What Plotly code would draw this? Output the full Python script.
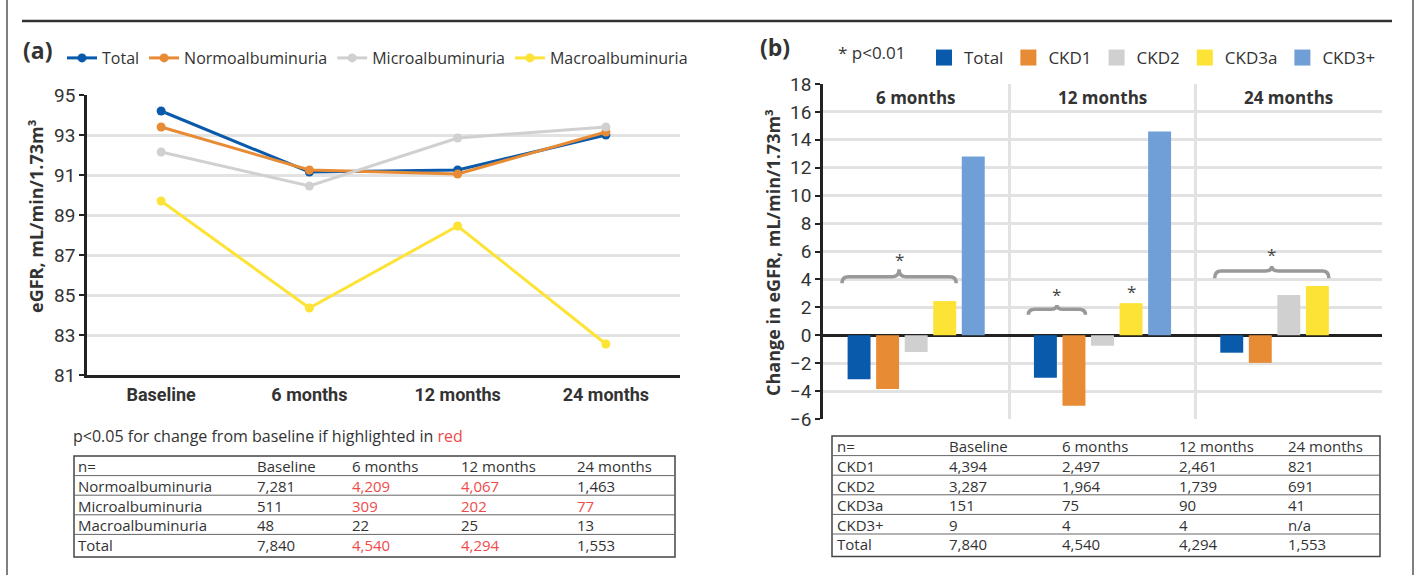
import plotly.graph_objects as go

W, H = 1416, 575


def px(x):
    return x / W


def py(y):
    return 1 - y / H


# ---------------- data ----------------
timepoints = ["Baseline", "6 months", "12 months", "24 months"]
egfr_total = [94.2, 91.15, 91.25, 93.0]
egfr_normo = [93.4, 91.25, 91.05, 93.15]
egfr_micro = [92.15, 90.45, 92.85, 93.4]
egfr_macro = [89.7, 84.35, 88.45, 82.55]

change_periods = ["6 months", "12 months", "24 months"]
chg_total = [-3.15, -3.05, -1.25]
chg_ckd1 = [-3.85, -5.05, -1.98]
chg_ckd2 = [-1.2, -0.75, 2.88]
chg_ckd3a = [2.45, 2.3, 3.52]
chg_ckd3p = [12.8, 14.6, None]

table_a_header = ["n=", "Baseline", "6 months", "12 months", "24 months"]
table_a_rows = [
    ["Normoalbuminuria", "7,281", "4,209", "4,067", "1,463"],
    ["Microalbuminuria", "511", "309", "202", "77"],
    ["Macroalbuminuria", "48", "22", "25", "13"],
    ["Total", "7,840", "4,540", "4,294", "1,553"],
]
table_a_red = [
    [False, False, True, True, False],
    [False, False, True, True, True],
    [False, False, False, False, False],
    [False, False, True, True, False],
]

table_b_header = ["n=", "Baseline", "6 months", "12 months", "24 months"]
table_b_rows = [
    ["CKD1", "4,394", "2,497", "2,461", "821"],
    ["CKD2", "3,287", "1,964", "1,739", "691"],
    ["CKD3a", "151", "75", "90", "41"],
    ["CKD3+", "9", "4", "4", "n/a"],
    ["Total", "7,840", "4,540", "4,294", "1,553"],
]

# significance braces: (period index, first bar, last bar, tip y, flat y, peak y, star y)
braces = [
    (0, 0, 3, 3.72, 4.2, 4.72, 5.45),
    (1, 0, 1, 1.46, 1.86, 2.17, 2.95),
    (2, 0, 3, 4.08, 4.6, 4.96, 5.8),
]
single_stars = [(1, 3, 3.15)]  # period index, bar index, y

# ---------------- styling ----------------
C_TOTAL = "#0a5aab"
C_NORMO = "#e88b35"
C_MICRO = "#d0d0d0"
C_MACRO = "#fde335"
C_CKD3P = "#6f9fd6"
GRID = "#e2e2e2"
AXIS = "#222222"
TXT = "#333333"
RED = "#ef4a4a"
FONT = "Open Sans, DejaVu Sans, sans-serif"
NARROW = "Liberation Sans Narrow, Arial Narrow, Roboto, sans-serif"

fig = go.Figure()

# ---------------- panel (a): lines ----------------
for name, vals, col in [
    ("Total", egfr_total, C_TOTAL),
    ("Normoalbuminuria", egfr_normo, C_NORMO),
    ("Microalbuminuria", egfr_micro, C_MICRO),
    ("Macroalbuminuria", egfr_macro, C_MACRO),
]:
    fig.add_trace(go.Scatter(
        x=timepoints, y=vals, name=name, mode="lines+markers",
        line=dict(color=col, width=3), marker=dict(color=col, size=9),
        xaxis="x", yaxis="y", legend="legend", cliponaxis=False,
    ))

# ---------------- panel (b): bars ----------------
BARGAP = 0.234
BARGROUPGAP = 0.196
xnum = list(range(len(change_periods)))
bar_series = [
    ("Total", chg_total, C_TOTAL),
    ("CKD1", chg_ckd1, C_NORMO),
    ("CKD2", chg_ckd2, C_MICRO),
    ("CKD3a", chg_ckd3a, C_MACRO),
    ("CKD3+", chg_ckd3p, C_CKD3P),
]
for name, vals, col in bar_series:
    fig.add_trace(go.Bar(
        x=xnum, y=vals, name=name, marker=dict(color=col, line=dict(width=0)),
        xaxis="x2", yaxis="y2", showlegend=False,
    ))
    # legend swatch (square)
    fig.add_trace(go.Scatter(
        x=[None], y=[None], name=name, mode="markers",
        marker=dict(symbol="square", color=col, size=16),
        xaxis="x2", yaxis="y2", legend="legend2",
    ))

nbars = len(bar_series)
slot = (1 - BARGAP) / nbars


def bar_left(period, idx):
    return period - (1 - BARGAP) / 2 + idx * slot + slot * BARGROUPGAP / 2


def bar_right(period, idx):
    return period - (1 - BARGAP) / 2 + (idx + 1) * slot - slot * BARGROUPGAP / 2


shapes = []
annotations = []
r = 0.035
for (p, i0, i1, yt, yf, yp, ys) in braces:
    xa = bar_left(p, i0) - 0.03
    xb = bar_right(p, i1) + 0.0
    xm = (xa + xb) / 2
    path = (f"M {xa},{yt} Q {xa},{yf} {xa + r},{yf} L {xm - r},{yf} "
            f"Q {xm},{yf} {xm},{yp} Q {xm},{yf} {xm + r},{yf} "
            f"L {xb - r},{yf} Q {xb},{yf} {xb},{yt}")
    shapes.append(dict(type="path", path=path, xref="x2", yref="y2",
                       line=dict(color="#999999", width=3.5)))
    annotations.append(dict(x=xm, y=ys, xref="x2", yref="y2", text="*",
                            showarrow=False, font=dict(size=17, color="#444", family=FONT)))
for (p, i, ys) in single_stars:
    xc = (bar_left(p, i) + bar_right(p, i)) / 2
    annotations.append(dict(x=xc, y=ys, xref="x2", yref="y2", text="*",
                            showarrow=False, font=dict(size=17, color="#444", family=FONT)))

# period labels inside plot
for i, lab in enumerate(change_periods):
    annotations.append(dict(x=i, y=17.0, xref="x2", yref="y2", text=f"<b>{lab}</b>",
                            showarrow=False, font=dict(size=17, color=TXT, family=FONT)))

# panel labels and misc text
annotations += [
    dict(x=px(21), y=py(50), xref="paper", yref="paper", xanchor="left", yanchor="middle",
         text="<b>(a)</b>", showarrow=False, font=dict(size=23, color=TXT, family=FONT)),
    dict(x=px(758), y=py(47), xref="paper", yref="paper", xanchor="left", yanchor="middle",
         text="<b>(b)</b>", showarrow=False, font=dict(size=23, color=TXT, family=FONT)),
    dict(x=px(836), y=py(53), xref="paper", yref="paper", xanchor="left", yanchor="middle",
         text="* p<0.01", showarrow=False, font=dict(size=17, color=TXT, family=FONT)),
    dict(x=px(36), y=py(216), xref="paper", yref="paper", xanchor="center", yanchor="middle",
         text="<b>eGFR, mL/min/1.73m³</b>", textangle=-90, showarrow=False,
         font=dict(size=18, color=TXT, family=FONT)),
    dict(x=px(773), y=py(252), xref="paper", yref="paper", xanchor="center", yanchor="middle",
         text="<b>Change in eGFR, mL/min/1.73m³</b>", textangle=-90, showarrow=False,
         font=dict(size=18, color=TXT, family=FONT)),
    dict(x=px(71), y=py(436), xref="paper", yref="paper", xanchor="left", yanchor="middle",
         text="p<0.05 for change from baseline if highlighted in <span style='color:%s'>red</span>" % RED,
         showarrow=False, font=dict(size=16, color=TXT, family=FONT)),
]


# ---------------- tables ----------------
def draw_table(x0, x1, y_top, row_h, col_x, header, rows, red=None):
    nrows = len(rows) + 1
    y_bot = y_top + nrows * row_h + 3
    shapes.append(dict(type="rect", xref="paper", yref="paper",
                       x0=px(x0), x1=px(x1), y0=py(y_top), y1=py(y_bot),
                       line=dict(color="#444", width=1.5)))
    for k in range(1, nrows):
        yl = y_top + k * row_h
        shapes.append(dict(type="line", xref="paper", yref="paper",
                           x0=px(x0), x1=px(x1), y0=py(yl), y1=py(yl),
                           line=dict(color="#666", width=1)))
    all_rows = [header] + rows
    for ri, row in enumerate(all_rows):
        yc = y_top + ri * row_h + row_h / 2 + 0.5
        for ci, cell in enumerate(row):
            col = TXT
            if red is not None and ri > 0 and red[ri - 1][ci]:
                col = RED
            annotations.append(dict(x=px(col_x[ci]), y=py(yc), xref="paper", yref="paper",
                                    xanchor="left", yanchor="middle", text=cell, showarrow=False,
                                    borderpad=0,
                                    font=dict(size=15, color=col, family=FONT)))


draw_table(74, 675, 456, 19.6, [77, 256, 351, 460, 576], table_a_header, table_a_rows, table_a_red)
draw_table(832, 1380, 436, 19.6, [836, 948, 1061, 1178, 1287], table_b_header, table_b_rows)

# ---------------- frame ----------------
shapes += [
    dict(type="line", xref="paper", yref="paper", x0=px(7), x1=px(7), y0=0, y1=1,
         line=dict(color="#555", width=1.5)),
    dict(type="line", xref="paper", yref="paper", x0=px(1413), x1=px(1413), y0=0, y1=1,
         line=dict(color="#555", width=1.5)),
    dict(type="line", xref="paper", yref="paper", x0=px(22), x1=px(1392), y0=py(21), y1=py(21),
         line=dict(color="#333", width=2.5)),
]

fig.update_layout(
    width=W, height=H, autosize=False,
    margin=dict(l=0, r=0, t=0, b=0, pad=0, autoexpand=False),
    paper_bgcolor="white", plot_bgcolor="white",
    font=dict(family=FONT, color=TXT),
    barmode="group", bargap=BARGAP, bargroupgap=BARGROUPGAP,
    xaxis=dict(domain=[px(87), px(680)], type="category", range=[-0.5, 3.5],
               showline=True, linecolor=AXIS, linewidth=2.5, showgrid=False, ticks="",
               tickfont=dict(size=18, family=NARROW, color=TXT), ticklabelstandoff=2,
               tickprefix="<b>", ticksuffix="</b>"),
    yaxis=dict(domain=[py(375), py(95)], range=[81, 95], dtick=2, tick0=81,
               showline=True, linecolor=AXIS, linewidth=2.5,
               showgrid=True, gridcolor=GRID, gridwidth=3, zeroline=False,
               ticks="outside", ticklen=5, tickwidth=2, tickcolor=AXIS,
               tickfont=dict(size=19, family=NARROW, color=TXT)),
    xaxis2=dict(domain=[px(823), px(1382)], range=[-0.5, 2.5], tickvals=[0.5, 1.5],
                showticklabels=False, showgrid=True, gridcolor=GRID, gridwidth=3,
                zeroline=False, showline=False, ticks="", anchor="y2"),
    yaxis2=dict(domain=[py(419), py(84)], range=[-6, 18], dtick=2,
                showline=True, linecolor=AXIS, linewidth=2.5,
                showgrid=True, gridcolor=GRID, gridwidth=3,
                zeroline=True, zerolinecolor=AXIS, zerolinewidth=2.5,
                ticks="outside", ticklen=5, tickwidth=2, tickcolor=AXIS,
                tickfont=dict(size=19, family=NARROW, color=TXT), anchor="x2"),
    legend=dict(orientation="h", x=px(62), y=py(41), xanchor="left", yanchor="top",
                font=dict(size=16, family=FONT, color=TXT), bgcolor="rgba(0,0,0,0)",
                itemwidth=30, tracegroupgap=0),
    legend2=dict(orientation="h", x=px(924), y=py(40), xanchor="left", yanchor="top",
                 font=dict(size=17, family=FONT, color=TXT), bgcolor="rgba(0,0,0,0)",
                 itemwidth=30),
    shapes=shapes,
    annotations=annotations,
)

fig.write_html("out.html", config={"displayModeBar": False},
               post_script="document.body.style.margin='0px';")
